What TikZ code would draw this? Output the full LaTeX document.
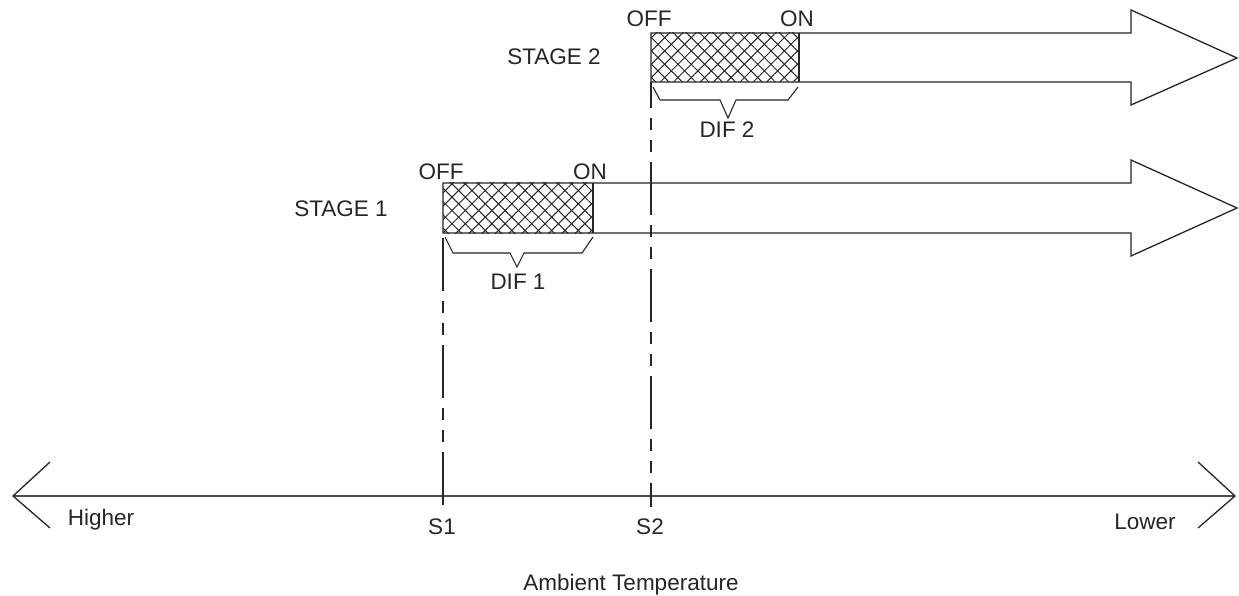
\documentclass[tikz,border=0pt]{standalone}
\usepackage{fontspec}
\setmainfont{Liberation Sans}
\usetikzlibrary{patterns.meta}
\begin{document}
\begin{tikzpicture}[x=1pt,y=-1pt,
  lbl/.style={inner sep=0pt,anchor=base,font=\fontsize{22.5}{27}\selectfont,text=black!85},
  outline/.style={draw=black!85,line width=1.3pt,line join=miter},
  hatch/.style={pattern={Lines[angle=45,distance=9.4pt,line width=1pt]},pattern color=black!85},
  hatchb/.style={pattern={Lines[angle=-45,distance=9.4pt,line width=1pt]},pattern color=black!85},
  brace/.style={draw=black!85,line width=1.1pt},
  guide/.style={draw=black!85,line width=1.2pt,dash pattern=on 53pt off 10pt on 12pt off 10pt on 12pt off 10pt},
  axis/.style={draw=black!70,line width=1.6pt},
  axhead/.style={draw=black!85,line width=1.3pt}]
\useasboundingbox (0,0) rectangle (1239,596);
\fill[white] (0,0) rectangle (1239,596);

% ---------- Stage 2 ----------
\coordinate (b2tl) at (651,33);
\coordinate (b2bl) at (651,82);
\coordinate (b2tr) at (799,33);
\coordinate (b2br) at (799,82);
\path[hatch] (b2tl) rectangle (b2br);
\path[hatchb] (b2tl) rectangle (b2br);
\draw[outline] (b2tl) -- (1131,33) -- (1131,10) -- (1237,58) -- (1131,105) -- (1131,82) -- (b2bl) -- cycle;
\draw[outline] (b2tr) -- (b2br);
\draw[brace] (653,87) -- (660,100) -- (720,100) -- (728,118) -- (736,100) -- (788,100) -- (798,87);

% ---------- Stage 1 ----------
\coordinate (b1tl) at (443,183);
\coordinate (b1bl) at (443,233);
\coordinate (b1tr) at (593,183);
\coordinate (b1br) at (593,233);
\path[hatch] (b1tl) rectangle (b1br);
\path[hatchb] (b1tl) rectangle (b1br);
\draw[outline] (b1tl) -- (1131,183) -- (1131,160) -- (1237,208) -- (1131,256) -- (1131,233) -- (b1bl) -- cycle;
\draw[outline] (b1tr) -- (b1br);
\draw[brace] (445,237) -- (453,253) -- (510,253) -- (517,267) -- (524,253) -- (582,253) -- (593,237);

% ---------- Axis ----------
\coordinate (axL) at (13,496);
\coordinate (axR) at (1235,496);
\draw[axis] (axL) -- (axR);
\draw[axhead] (50,462) -- (axL) -- (50,528);
\draw[axhead] (1198,462) -- (axR) -- (1198,528);

% ---------- Guide lines ----------
\coordinate (s1end) at (443,507);
\coordinate (s2end) at (651,507);
\draw[guide,dash phase=102pt] (b1bl) -- (s1end);
\draw[guide,dash phase=27pt] (b2bl) -- (s2end);

% ---------- Labels ----------
\node[lbl] (st2) at (554,65) {STAGE 2};
\node[lbl] (st1) at (341,216) {STAGE 1};
\node[lbl] (off2) at (649,27) {OFF};
\node[lbl] (on2) at (797,27) {ON};
\node[lbl] (off1) at (441,180) {OFF};
\node[lbl] (on1) at (590,180) {ON};
\node[lbl] (dif2) at (727,138) {DIF 2};
\node[lbl] (dif1) at (518,289) {DIF 1};
\node[lbl] (hi) at (101,525) {Higher};
\node[lbl] (lo) at (1145,529) {Lower};
\node[lbl] (s1) at (442,534) {S1};
\node[lbl] (s2) at (650,534) {S2};
\node[lbl] (amb) at (631,590) {Ambient Temperature};
\end{tikzpicture}
\end{document}
